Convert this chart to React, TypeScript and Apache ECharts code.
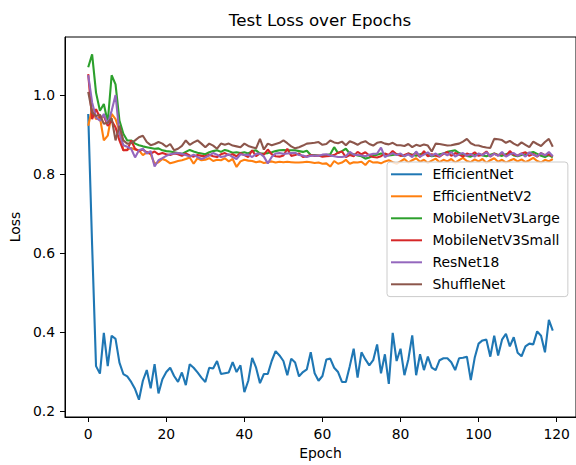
import React, { useEffect, useRef } from "react";
import * as echarts from "echarts";

const seriesNames = ["EfficientNet", "EfficientNetV2", "MobileNetV3Large", "MobileNetV3Small", "ResNet18", "ShuffleNet"];
const colors = ["#1f77b4", "#ff7f0e", "#2ca02c", "#d62728", "#9467bd", "#8c564b"];
const xTicks = [0, 20, 40, 60, 80, 100, 120];
const yTicks = [0.2, 0.4, 0.6, 0.8, 1.0];

const efficientNet = [
  0.952, 0.62, 0.314, 0.295, 0.398, 0.314, 0.391, 0.383, 0.323, 0.294,
  0.288, 0.274, 0.256, 0.229, 0.277, 0.304, 0.258, 0.319, 0.245, 0.281,
  0.299, 0.31, 0.289, 0.274, 0.298, 0.266, 0.319, 0.31, 0.298, 0.285,
  0.274, 0.31, 0.308, 0.327, 0.294, 0.296, 0.298, 0.324, 0.299, 0.316,
  0.248, 0.277, 0.335, 0.31, 0.271, 0.294, 0.294, 0.327, 0.352, 0.341,
  0.327, 0.291, 0.333, 0.323, 0.288, 0.299, 0.306, 0.349, 0.296, 0.277,
  0.289, 0.331, 0.333, 0.31, 0.299, 0.274, 0.274, 0.314, 0.358, 0.285,
  0.349, 0.331, 0.316, 0.329, 0.369, 0.296, 0.344, 0.269, 0.398, 0.327,
  0.358, 0.291, 0.331, 0.392, 0.291, 0.344, 0.304, 0.338, 0.31, 0.304,
  0.329, 0.334, 0.334, 0.324, 0.304, 0.334, 0.335, 0.338, 0.279, 0.335,
  0.371, 0.379, 0.381, 0.338, 0.391, 0.341, 0.381, 0.396, 0.364, 0.387,
  0.348, 0.339, 0.364, 0.371, 0.369, 0.402, 0.391, 0.349, 0.431, 0.404,
];

const efficientNetV2 = [
  0.922, 0.965, 0.939, 0.943, 0.885, 0.897, 0.952, 0.939, 0.91, 0.86,
  0.862, 0.866, 0.862, 0.86, 0.848, 0.855, 0.85, 0.826, 0.83, 0.838,
  0.834, 0.827, 0.83, 0.833, 0.835, 0.838, 0.842, 0.826, 0.84, 0.835,
  0.836, 0.84, 0.833, 0.836, 0.835, 0.84, 0.832, 0.838, 0.818, 0.832,
  0.836, 0.834, 0.833, 0.83, 0.832, 0.828, 0.83, 0.832, 0.829, 0.831,
  0.83, 0.831, 0.83, 0.829, 0.829, 0.83, 0.831, 0.83, 0.828, 0.829,
  0.826, 0.827, 0.819, 0.833, 0.826, 0.829, 0.836, 0.826, 0.83, 0.829,
  0.831, 0.823, 0.834, 0.829, 0.83, 0.827, 0.832, 0.835, 0.83, 0.826,
  0.832, 0.838, 0.829, 0.835, 0.84, 0.831, 0.836, 0.828, 0.834, 0.839,
  0.83, 0.836, 0.832, 0.838, 0.829, 0.835, 0.841, 0.833, 0.83, 0.837,
  0.832, 0.838, 0.828, 0.835, 0.84, 0.831, 0.836, 0.829, 0.834, 0.838,
  0.832, 0.837, 0.83, 0.835, 0.841, 0.833, 0.829, 0.836, 0.832, 0.838,
];

const mobileNetV3Large = [
  1.07, 1.103, 1.006, 0.96, 0.977, 0.931, 1.05, 1.027, 0.935, 0.902,
  0.885, 0.885, 0.877, 0.873, 0.87, 0.868, 0.866, 0.864, 0.865, 0.86,
  0.858, 0.857, 0.855, 0.853, 0.851, 0.856, 0.861, 0.857, 0.854, 0.852,
  0.85, 0.855, 0.858, 0.86, 0.856, 0.861, 0.858, 0.854, 0.855, 0.853,
  0.855, 0.852, 0.858, 0.86, 0.852, 0.852, 0.853, 0.855, 0.858, 0.86,
  0.861, 0.86, 0.86, 0.86, 0.858, 0.856, 0.859, 0.848, 0.848, 0.846,
  0.847, 0.848, 0.85, 0.868, 0.853, 0.858, 0.864, 0.852, 0.85, 0.847,
  0.845, 0.839, 0.842, 0.846, 0.849, 0.852, 0.85, 0.847, 0.848, 0.85,
  0.848, 0.845, 0.852, 0.849, 0.846, 0.85, 0.853, 0.848, 0.845, 0.847,
  0.85, 0.852, 0.856, 0.858, 0.86, 0.853, 0.849, 0.846, 0.844, 0.848,
  0.851, 0.847, 0.845, 0.849, 0.852, 0.848, 0.846, 0.85, 0.853, 0.847,
  0.845, 0.848, 0.85, 0.853, 0.856, 0.851, 0.846, 0.843, 0.848, 0.842,
];

const mobileNetV3Small = [
  1.053, 0.939, 0.964, 0.943, 0.947, 0.922, 0.935, 0.918, 0.885, 0.86,
  0.86, 0.885, 0.864, 0.858, 0.862, 0.855, 0.852, 0.857, 0.85, 0.853,
  0.85, 0.848, 0.852, 0.85, 0.846, 0.852, 0.847, 0.844, 0.848, 0.846,
  0.845, 0.849, 0.845, 0.843, 0.85, 0.853, 0.848, 0.85, 0.845, 0.853,
  0.848, 0.843, 0.86, 0.845, 0.852, 0.849, 0.862, 0.85, 0.845, 0.844,
  0.847, 0.864, 0.846, 0.848, 0.852, 0.843, 0.845, 0.848, 0.846, 0.847,
  0.844, 0.845, 0.846, 0.848, 0.854, 0.857, 0.843, 0.848, 0.845, 0.856,
  0.85, 0.855, 0.847, 0.843, 0.842, 0.845, 0.852, 0.848, 0.858, 0.85,
  0.846, 0.848, 0.852, 0.847, 0.854, 0.843, 0.858, 0.845, 0.85, 0.847,
  0.844, 0.851, 0.856, 0.846, 0.853, 0.849, 0.844, 0.852, 0.848, 0.855,
  0.846, 0.849, 0.857, 0.844, 0.852, 0.847, 0.853, 0.845, 0.858, 0.849,
  0.847, 0.852, 0.855, 0.846, 0.851, 0.844, 0.853, 0.848, 0.85, 0.845,
];

const resNet18 = [
  1.05, 0.981, 0.943, 0.935, 0.952, 0.927, 0.96, 1.0, 0.902, 0.873,
  0.869, 0.864, 0.842, 0.86, 0.864, 0.852, 0.858, 0.819, 0.835, 0.84,
  0.846, 0.85, 0.852, 0.853, 0.851, 0.848, 0.844, 0.849, 0.843, 0.838,
  0.842, 0.847, 0.853, 0.849, 0.843, 0.845, 0.85, 0.843, 0.838, 0.85,
  0.848, 0.849, 0.843, 0.851, 0.852, 0.844, 0.827, 0.843, 0.852, 0.853,
  0.851, 0.852, 0.853, 0.854, 0.848, 0.847, 0.843, 0.846, 0.847, 0.846,
  0.849, 0.85, 0.847, 0.845, 0.843, 0.843, 0.845, 0.856, 0.849, 0.848,
  0.847, 0.845, 0.849, 0.851, 0.852, 0.867, 0.843, 0.848, 0.853, 0.848,
  0.852, 0.845, 0.85, 0.843, 0.857, 0.844, 0.849, 0.855, 0.846, 0.852,
  0.845, 0.853, 0.847, 0.856, 0.844, 0.85, 0.853, 0.846, 0.851, 0.844,
  0.852, 0.848, 0.855, 0.845, 0.851, 0.846, 0.856, 0.844, 0.85, 0.853,
  0.846, 0.852, 0.844, 0.855, 0.849, 0.845, 0.853, 0.847, 0.856, 0.845,
];

const shuffleNet = [
  1.008, 0.956, 0.947, 0.95, 0.927, 0.93, 0.941, 0.885, 0.922, 0.885,
  0.877, 0.878, 0.885, 0.893, 0.897, 0.881, 0.873, 0.876, 0.881, 0.877,
  0.869, 0.876, 0.86, 0.864, 0.871, 0.885, 0.874, 0.88, 0.885, 0.877,
  0.868, 0.877, 0.872, 0.864, 0.877, 0.874, 0.877, 0.872, 0.87, 0.868,
  0.877, 0.871, 0.868, 0.865, 0.889, 0.862, 0.877, 0.873, 0.876, 0.879,
  0.885, 0.878, 0.87, 0.865, 0.868, 0.872, 0.877, 0.878, 0.879, 0.881,
  0.874, 0.876, 0.885, 0.88, 0.878, 0.882, 0.873, 0.883, 0.879, 0.874,
  0.88, 0.883, 0.876, 0.872, 0.879, 0.881, 0.877, 0.875, 0.879, 0.873,
  0.873, 0.871, 0.876, 0.868, 0.874, 0.871, 0.875, 0.872, 0.857, 0.877,
  0.876, 0.874, 0.872, 0.873, 0.875, 0.877, 0.882, 0.889, 0.878, 0.873,
  0.872, 0.869, 0.867, 0.866, 0.889, 0.888, 0.886, 0.879, 0.884, 0.877,
  0.872, 0.88, 0.874, 0.868, 0.882, 0.876, 0.871, 0.881, 0.889, 0.869,
];

const allSeries = [efficientNet, efficientNetV2, mobileNetV3Large, mobileNetV3Small, resNet18, shuffleNet];

const FONT = "DejaVu Sans";

export default function App() {
  const ref = useRef<HTMLDivElement>(null);
  useEffect(() => {
    if (!ref.current) return;
    const chart = echarts.init(ref.current, undefined, { renderer: "svg" });
    chart.setOption({
      animation: false,
      backgroundColor: "#fff",
      graphic: [
        {
          type: "text",
          x: 320,
          y: 20,
          style: {
            text: "Test Loss over Epochs",
            font: `16.7px "${FONT}"`,
            fill: "#000",
            align: "center",
            verticalAlign: "middle",
          },
        },
      ],
      grid: {
        left: 63.2,
        top: 37,
        width: 514.6,
        height: 384.6,
        show: true,
        borderColor: "#000",
        borderWidth: 1,
        backgroundColor: "transparent",
      },
      legend: {
        orient: "vertical",
        left: 387,
        top: 162,
        icon: "rect",
        itemWidth: 31,
        itemHeight: 2,
        itemGap: 6,
        padding: [4.3, 8, 4.3, 4],
        backgroundColor: "rgba(255,255,255,0.8)",
        borderColor: "#cccccc",
        borderWidth: 1,
        borderRadius: 3,
        textStyle: {
          fontFamily: FONT,
          fontSize: 13.9,
          color: "#000",
          lineHeight: 16,
          padding: [0, 0, 0, 5.5],
        },
        data: seriesNames,
      },
      xAxis: {
        type: "value",
        min: -5.95,
        max: 124.95,
        name: "Epoch",
        nameLocation: "middle",
        nameGap: 29,
        nameTextStyle: { fontFamily: FONT, fontSize: 13.9, color: "#000" },
        axisLine: { show: true, onZero: false, lineStyle: { color: "#000", width: 1 } },
        axisTick: { show: true, inside: false, length: 5, lineStyle: { color: "#000", width: 1 }, customValues: xTicks },
        axisLabel: {
          customValues: xTicks,
          margin: 10,
          fontFamily: FONT,
          fontSize: 13.9,
          color: "#000",
          showMinLabel: true,
          showMaxLabel: true,
        },
        splitLine: { show: false },
      },
      yAxis: {
        type: "value",
        min: 0.1853,
        max: 1.1467,
        name: "Loss",
        nameLocation: "middle",
        nameGap: 40,
        nameTextStyle: { fontFamily: FONT, fontSize: 13.9, color: "#000" },
        axisLine: { show: true, onZero: false, lineStyle: { color: "#000", width: 1 } },
        axisTick: { show: true, inside: false, length: 5, lineStyle: { color: "#000", width: 1 }, customValues: yTicks },
        axisLabel: {
          customValues: yTicks,
          margin: 10,
          fontFamily: FONT,
          fontSize: 13.9,
          color: "#000",
          formatter: (v: number) => v.toFixed(1),
        },
        splitLine: { show: false },
      },
      series: allSeries.map((vals, k) => ({
        name: seriesNames[k],
        type: "line",
        symbol: "none",
        showSymbol: false,
        color: colors[k],
        lineStyle: { color: colors[k], width: 2.1 },
        data: vals.map((v, i) => [i, v]),
        z: 2 + k * 0.01,
      })),
    });
    return () => chart.dispose();
  }, []);
  return (
    <div
      ref={ref}
      style={{ position: "absolute", left: 0, top: 0, width: 576, height: 465 }}
    />
  );
}
